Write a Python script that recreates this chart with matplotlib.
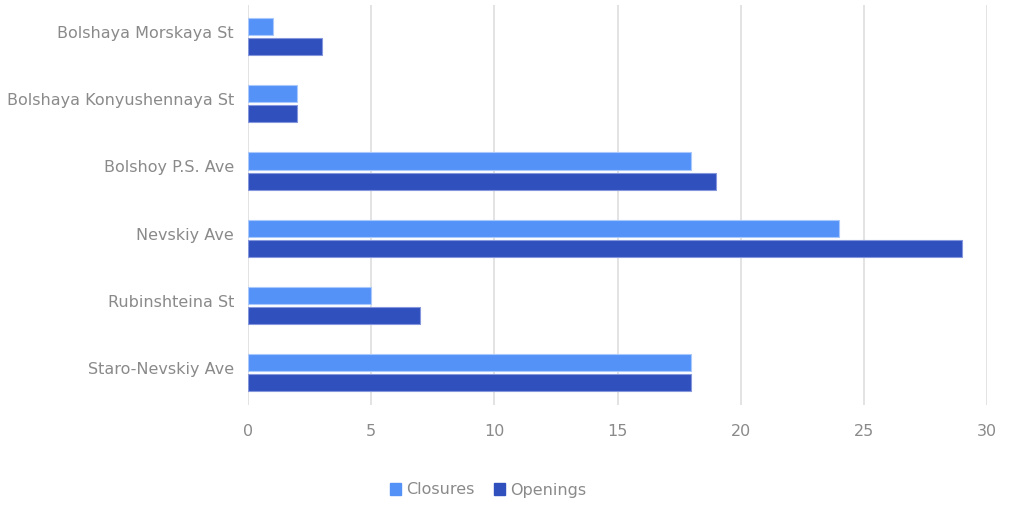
import numpy as np
from matplotlib import pyplot as plt
from matplotlib.patches import Patch

# data
streets = ['Bolshaya Morskaya St', 'Bolshaya Konyushennaya St', 'Bolshoy P.S. Ave',
           'Nevskiy Ave', 'Rubinshteina St', 'Staro-Nevskiy Ave']
closures = [1, 2, 18, 24, 5, 18]
openings = [3, 2, 19, 29, 7, 18]
x_ticks = [0, 5, 10, 15, 20, 25, 30]

c_close = '#5592F8'
c_open = '#3050BD'
txt = '#8a8a8a'

plt.rcParams['font.family'] = ['DejaVu Sans']

fig = plt.figure(figsize=(10.24, 5.15), dpi=100)
ax = fig.add_axes([248/1024, 1-405/515, (987-248)/1024, 400/515])

y = np.arange(len(streets))
h = 0.255
ax.barh(y - 0.15, closures, height=h, color=c_close, edgecolor='#a9c8fb', linewidth=0.8, zorder=3)
ax.barh(y + 0.15, openings, height=h, color=c_open, edgecolor='#8497dc', linewidth=0.8, zorder=3)

ax.set_xlim(0, 30)
ax.set_ylim(5.48, -0.47)
ax.set_xticks(x_ticks)
ax.set_yticks(y - 0.07)
ax.set_yticklabels(streets)
ax.grid(axis='x', color='#e3e3e3', linewidth=1.4, zorder=0)
ax.tick_params(length=0, colors=txt, labelsize=11.5)
ax.tick_params(axis='x', pad=14)
ax.tick_params(axis='y', pad=10)
for s in ax.spines.values():
    s.set_visible(False)

handles = [Patch(color=c_close, label='Closures'), Patch(color=c_open, label='Openings')]
leg = fig.legend(handles=handles, loc='center', bbox_to_anchor=(488/1024, 1-490/515), ncol=2,
                 frameon=False, fontsize=11.5, handlelength=0.7, handleheight=0.7,
                 handletextpad=0.3, columnspacing=1.2)
for t in leg.get_texts():
    t.set_color(txt)

plt.savefig('out.png', dpi=100)
